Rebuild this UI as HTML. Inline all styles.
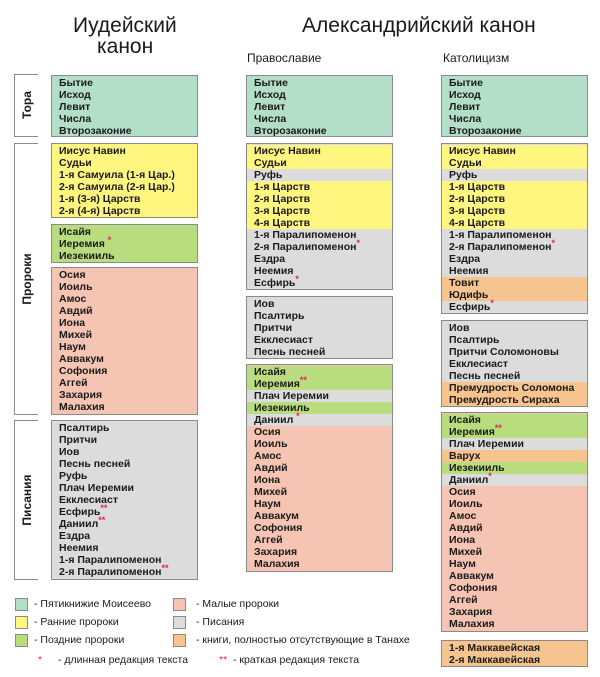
<!DOCTYPE html>
<html><head><meta charset="utf-8"><style>
body{margin:0;background:#fff;width:600px;height:677px;position:relative;overflow:hidden;font-family:"Liberation Sans",Arial,sans-serif;color:#1a1a1a}
.h{position:absolute;font-size:21px;line-height:22px;white-space:nowrap}
.s{position:absolute;font-size:12px;white-space:nowrap}
.b{position:absolute;border:1px solid #8a8a8a;padding:1px 0;box-sizing:border-box}
.b div{height:12px;line-height:12px;padding-left:7px;font-weight:bold;font-size:10.5px;white-space:nowrap}
.t{background:#b3dfc9}.y{background:#fff680}.g{background:#b9dc7e}.p{background:#f6c4b2}.r{background:#dcdcdc}.o{background:#f6c48f}
.b1{left:51px;width:147px}.b2{left:246px;width:147px}.b3{left:441px;width:147px}
sup,.st{color:#e0245e;font-size:9px;vertical-align:4px;line-height:0}
.br{position:absolute;left:14px;width:24px;border:1px solid #8a8a8a;border-right:none;box-sizing:border-box}
.vl{position:absolute;font-weight:bold;font-size:12px;transform:rotate(-90deg);white-space:nowrap;transform-origin:center}
.sw{position:absolute;width:13px;height:13px;border:1px solid #8a8a8a;box-sizing:border-box}
.lt{position:absolute;font-size:10.5px;white-space:nowrap;line-height:13px}
</style></head><body>
<div class="h" style="left:73px;top:15px">Иудейский</div>
<div class="h" style="left:97px;top:36px">канон</div>
<div class="h" style="left:302px;top:15px">Александрийский канон</div>
<div class="s" style="left:247px;top:51px">Православие</div>
<div class="s" style="left:443px;top:51px">Католицизм</div>

<div class="br" style="top:74px;height:63px"></div>
<div class="vl" style="left:7px;top:98px;width:40px;text-align:center">Тора</div>
<div class="br" style="top:143px;height:272px"></div>
<div class="vl" style="left:-7px;top:272px;width:68px;text-align:center">Пророки</div>
<div class="br" style="top:420px;height:160px"></div>
<div class="vl" style="left:-7px;top:493px;width:68px;text-align:center">Писания</div>

<div class="b b1 t" style="top:75px;height:62px"><div>Бытие</div><div>Исход</div><div>Левит</div><div>Числа</div><div>Второзаконие</div></div>
<div class="b b1 y" style="top:143px;height:75px"><div>Иисус Навин</div><div>Судьи</div><div>1-я Самуила (1-я Цар.)</div><div>2-я Самуила (2-я Цар.)</div><div>1-я (3-я) Царств</div><div>2-я (4-я) Царств</div></div>
<div class="b b1 g" style="top:224px;height:39px"><div>Исайя</div><div>Иеремия <sup>*</sup></div><div>Иезекииль</div></div>
<div class="b b1 p" style="top:267px;height:148px"><div>Осия</div><div>Иоиль</div><div>Амос</div><div>Авдий</div><div>Иона</div><div>Михей</div><div>Наум</div><div>Аввакум</div><div>Софония</div><div>Аггей</div><div>Захария</div><div>Малахия</div></div>
<div class="b b1 r" style="top:420px;height:160px"><div>Псалтирь</div><div>Притчи</div><div>Иов</div><div>Песнь песней</div><div>Руфь</div><div>Плач Иеремии</div><div>Екклесиаст</div><div>Есфирь<sup>**</sup></div><div>Даниил<sup>**</sup></div><div>Ездра</div><div>Неемия</div><div>1-я Паралипоменон</div><div>2-я Паралипоменон<sup>**</sup></div></div>

<div class="b b2 t" style="top:75px;height:62px"><div>Бытие</div><div>Исход</div><div>Левит</div><div>Числа</div><div>Второзаконие</div></div>
<div class="b b2 r" style="top:143px;height:147px"><div class="y">Иисус Навин</div><div class="y">Судьи</div><div>Руфь</div><div class="y">1-я Царств</div><div class="y">2-я Царств</div><div class="y">3-я Царств</div><div class="y">4-я Царств</div><div>1-я Паралипоменон</div><div>2-я Паралипоменон<sup>*</sup></div><div>Ездра</div><div>Неемия</div><div>Есфирь<sup>*</sup></div></div>
<div class="b b2 r" style="top:296px;height:63px"><div>Иов</div><div>Псалтирь</div><div>Притчи</div><div>Екклесиаст</div><div>Песнь песней</div></div>
<div class="b b2 p" style="top:364px;height:208px"><div class="g">Исайя</div><div class="g">Иеремия<sup>**</sup></div><div class="r">Плач Иеремии</div><div class="g">Иезекииль</div><div class="r">Даниил <sup>*</sup></div><div>Осия</div><div>Иоиль</div><div>Амос</div><div>Авдий</div><div>Иона</div><div>Михей</div><div>Наум</div><div>Аввакум</div><div>Софония</div><div>Аггей</div><div>Захария</div><div>Малахия</div></div>

<div class="b b3 t" style="top:75px;height:62px"><div>Бытие</div><div>Исход</div><div>Левит</div><div>Числа</div><div>Второзаконие</div></div>
<div class="b b3 r" style="top:143px;height:171px"><div class="y">Иисус Навин</div><div class="y">Судьи</div><div>Руфь</div><div class="y">1-я Царств</div><div class="y">2-я Царств</div><div class="y">3-я Царств</div><div class="y">4-я Царств</div><div>1-я Паралипоменон</div><div>2-я Паралипоменон<sup>*</sup></div><div>Ездра</div><div>Неемия</div><div class="o">Товит</div><div class="o">Юдифь</div><div>Есфирь<sup>*</sup></div></div>
<div class="b b3 r" style="top:320px;height:87px"><div>Иов</div><div>Псалтирь</div><div>Притчи Соломоновы</div><div>Екклесиаст</div><div>Песнь песней</div><div class="o">Премудрость Соломона</div><div class="o">Премудрость Сираха</div></div>
<div class="b b3 p" style="top:412px;height:220px"><div class="g">Исайя</div><div class="g">Иеремия<sup>**</sup></div><div class="r">Плач Иеремии</div><div class="o">Варух</div><div class="g">Иезекииль</div><div class="r">Даниил<sup>*</sup></div><div>Осия</div><div>Иоиль</div><div>Амос</div><div>Авдий</div><div>Иона</div><div>Михей</div><div>Наум</div><div>Аввакум</div><div>Софония</div><div>Аггей</div><div>Захария</div><div>Малахия</div></div>
<div class="b b3 o" style="top:640px;height:27px"><div>1-я Маккавейская</div><div>2-я Маккавейская</div></div>

<div class="sw t" style="left:15px;top:598px"></div><div class="lt" style="left:34px;top:598px">- Пятикнижие Моисеево</div>
<div class="sw y" style="left:15px;top:616px"></div><div class="lt" style="left:34px;top:616px">- Ранние пророки</div>
<div class="sw g" style="left:15px;top:634px"></div><div class="lt" style="left:34px;top:634px">- Поздние пророки</div>
<div class="sw p" style="left:173px;top:598px"></div><div class="lt" style="left:196px;top:598px">- Малые пророки</div>
<div class="sw r" style="left:173px;top:616px"></div><div class="lt" style="left:196px;top:616px">- Писания</div>
<div class="sw o" style="left:173px;top:634px"></div><div class="lt" style="left:196px;top:634px">- книги, полностью отсутствующие в Танахе</div>
<div class="lt" style="left:38px;top:654px"><span style="color:#e0245e">*</span></div><div class="lt" style="left:58px;top:654px">- длинная редакция текста</div>
<div class="lt" style="left:219px;top:654px"><span style="color:#e0245e">**</span></div><div class="lt" style="left:233px;top:654px">- краткая редакция текста</div>
</body></html>
